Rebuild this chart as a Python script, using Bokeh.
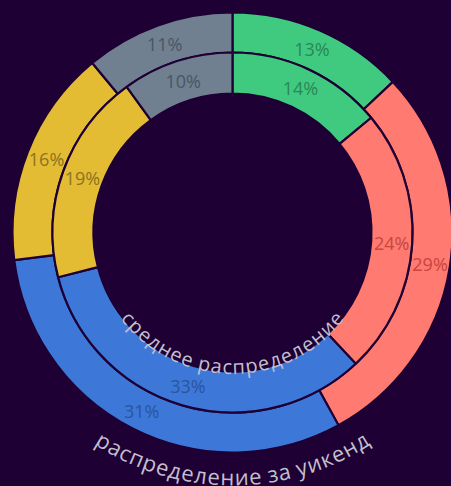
import math
from bokeh.plotting import figure
from bokeh.models import ColumnDataSource, Range1d
from bokeh.core.properties import value
from bokeh.embed import file_html
from bokeh.resources import INLINE

# ---- data ----
segments = ["s1", "s2", "s3", "s4", "s5"]
outer_values = [13, 29, 31, 16, 11]   # распределение за уикенд
inner_values = [14, 24, 33, 19, 10]   # среднее распределение
colors = ["#3fca7f", "#ff7a70", "#3d78d9", "#e3bc33", "#708090"]
label_colors = ["#2b8757", "#c9453e", "#2a559c", "#8a7322", "#4b5563"]
inner_title = "среднее распределение"
outer_title = "распределение за уикенд"

# ---- styling / geometry ----
W, H = 451, 486
BG = "#1e0034"
TITLE_COLOR = "#c2bece"
FONT = "Open Sans"
cx, cy = 232, 254
R_IN0, R_IN1 = 139, 180
R_OUT0, R_OUT1 = 180, 220

W_EM = {"а": 0.556, "с": 0.479, "е": 0.561, "р": 0.613, "у": 0.504, "к": 0.532,
        "п": 0.614, "и": 0.635, "н": 0.63, "л": 0.603, "д": 0.58, "з": 0.488,
        " ": 0.26}

p = figure(width=W, height=H, x_range=Range1d(0, W), y_range=Range1d(0, H),
           output_backend="svg", toolbar_location=None, min_border=0,
           x_axis_location=None, y_axis_location=None)
p.grid.visible = False
p.outline_line_color = None
p.background_fill_color = BG
p.border_fill_color = BG


def ring(vals, r0, r1, rlab):
    total = float(sum(vals))
    starts, ends, lx, ly, texts = [], [], [], [], []
    cum = 0.0
    for v in vals:
        a = cum / total
        b = (cum + v) / total
        s = math.pi / 2 - 2 * math.pi * a
        e = math.pi / 2 - 2 * math.pi * b
        m = (s + e) / 2
        starts.append(s)
        ends.append(e)
        lx.append(cx + rlab * math.cos(m))
        ly.append(cy + rlab * math.sin(m))
        texts.append(f"{v}%")
        cum += v
    src = ColumnDataSource(dict(seg=segments, start=starts, end=ends,
                                color=colors, lx=lx, ly=ly, text=texts,
                                tcolor=label_colors))
    p.annular_wedge(x=cx, y=cy, inner_radius=r0, outer_radius=r1,
                    start_angle="start", end_angle="end", direction="clock",
                    fill_color="color", line_color=BG, line_width=2.2,
                    source=src)
    p.text(x="lx", y="ly", text="text", text_color="tcolor",
           text_font=value(FONT), text_font_size="18px",
           text_align="center", text_baseline="middle", source=src)


ring(outer_values, R_OUT0, R_OUT1, (R_OUT0 + R_OUT1) / 2)
ring(inner_values, R_IN0, R_IN1, (R_IN0 + R_IN1) / 2)


def arc_text(s, r_base, size):
    widths = [W_EM.get(ch, 0.56) * size for ch in s]
    r_mid = r_base - 0.535 * size / 2
    span = sum(widths) / r_mid
    phi0 = -math.pi / 2 - span / 2
    xs, ys, angs, chars = [], [], [], []
    acc = 0.0
    for ch, w in zip(s, widths):
        phi = phi0 + (acc + w / 2) / r_mid
        acc += w
        if ch == " ":
            continue
        xs.append(cx + r_base * math.cos(phi))
        ys.append(cy + r_base * math.sin(phi))
        angs.append(phi + math.pi / 2)
        chars.append(ch)
    p.text(x=xs, y=ys, text=chars, angle=angs, text_color=TITLE_COLOR,
           text_font=value(FONT), text_font_size=f"{size}px",
           text_align="center", text_baseline="alphabetic")


arc_text(inner_title, 134, 20)
arc_text(outer_title, 244, 22)

html = file_html(p, INLINE, title="chart")
html = html.replace("</head>", "<style>html,body{background:%s;}</style></head>" % BG, 1)
open("out.html", "w").write(html)
